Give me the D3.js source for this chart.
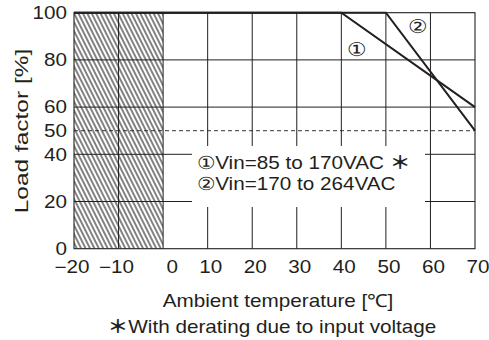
<!DOCTYPE html>
<html><head><meta charset="utf-8">
<script src="https://cdn.jsdelivr.net/npm/d3@7"></script>
<style>
html,body{margin:0;padding:0;background:#fff;}
svg{display:block;}
text{font-family:"Liberation Sans",Arial,sans-serif;fill:#231f20;}
tspan.ast{font-family:"Noto Sans CJK JP",sans-serif;font-weight:bold;}
</style></head>
<body>
<svg id="c" width="489" height="340"></svg>
<script>
// ---- data ----
const xTicks = [-20,-10,0,10,20,30,40,50,60,70];
const xTickLabels = ["\u221220","\u221210","0","10","20","30","40","50","60","70"];
const yTicks = [0,20,40,50,60,80,100];
const yTickLabels = ["0","20","40","50","60","80","100"];
const series1Temp = [-20,40,70];   // ① Vin=85 to 170VAC
const series1Load = [100,100,60];
const series2Temp = [-20,50,70];   // ② Vin=170 to 264VAC
const series2Load = [100,100,50];
const hatchRange = [-20,0];
const dashedLevel = 50;
const legendLines = ["\u2460Vin=85 to 170VAC ","\u2461Vin=170 to 264VAC"];
const legendMarks = ["\uFF0A",""];
const xTitle = "Ambient temperature [\u2103]";
const yTitle = "Load factor [%]";
const footMark = "\uFF0A";
const footnote = "With derating due to input voltage";

// ---- layout ----
const svg = d3.select("#c");
const L = 74, R = 475, T = 12.7, B = 248.7;
const x = d3.scaleLinear().domain([-20,70]).range([L,R]);
const y = d3.scaleLinear().domain([0,100]).range([B,T]);
const ink = "#231f20";
const SX = 1.15;

function txt(px, py, s, anchor, size, rot, sx){
  return svg.append("text")
    .attr("transform", `translate(${px},${py})` + (rot?` rotate(${rot})`:"") + ` scale(${sx||SX},1)`)
    .attr("text-anchor", anchor || "start")
    .style("font-size", (size||18) + "px")
    .text(s);
}

// hatch pattern
const defs = svg.append("defs");
const pat = defs.append("pattern").attr("id","hatch")
  .attr("patternUnits","userSpaceOnUse").attr("width",3.95).attr("height",10)
  .attr("patternTransform","rotate(-26.57)");
pat.append("line").attr("x1",1).attr("x2",1).attr("y1",-1).attr("y2",11)
  .attr("stroke","#111").attr("stroke-width",1.05);

svg.append("rect").attr("x",x(hatchRange[0])).attr("y",T)
  .attr("width",x(hatchRange[1])-x(hatchRange[0])).attr("height",B-T)
  .attr("fill","url(#hatch)");

// grid
const g = svg.append("g");
g.selectAll("line.v").data(xTicks.filter(d=>d>-20 && d<70)).join("line")
  .attr("x1",d=>x(d)).attr("x2",d=>x(d)).attr("y1",T).attr("y2",B)
  .attr("stroke",ink).attr("stroke-width",1);
g.selectAll("line.h").data([20,40,60,80]).join("line")
  .attr("x1",L).attr("x2",R).attr("y1",d=>y(d)).attr("y2",d=>y(d))
  .attr("stroke",ink).attr("stroke-width",1);
g.append("line").attr("x1",L).attr("x2",R).attr("y1",y(dashedLevel)).attr("y2",y(dashedLevel))
  .attr("stroke",ink).attr("stroke-width",0.9).attr("stroke-dasharray","4,3");

// frame
svg.append("rect").attr("x",L).attr("y",T).attr("width",R-L).attr("height",B-T)
  .attr("fill","none").attr("stroke",ink).attr("stroke-width",1.1);

// legend box (white)
svg.append("rect").attr("x",192).attr("y",146).attr("width",233).attr("height",61).attr("fill","#fff");

// series lines
const line = d3.line().x(d=>x(d[0])).y(d=>y(d[1]));
[[series1Temp,series1Load],[series2Temp,series2Load]].forEach(([t,l])=>{
  svg.append("path").datum(t.map((v,i)=>[v,l[i]])).attr("d",line)
    .attr("fill","none").attr("stroke",ink).attr("stroke-width",2).attr("stroke-linejoin","miter");
});

// tick labels
xTicks.forEach((v,i)=>{
  const dx = v===0 ? 9 : (v<0 ? -2 : 3);
  txt(x(v)+dx, 273, xTickLabels[i], "middle", 17.5, 0, 1.18);
});
yTicks.forEach((v,i)=>{
  txt(67, y(v)+6.2, yTickLabels[i], "end", 17.5, 0, 1.18);
});

// legend text
legendLines.forEach((s,i)=>{
  const t = txt(197, 169 + i*21, s, "start", 18);
  if (legendMarks[i]) t.append("tspan").attr("class","ast").text(legendMarks[i]);
});

// annotations
txt(x(43.5), y(84.6)+6.5, "\u2460", "middle", 19);
txt(x(57.2), y(94)+6.5, "\u2461", "middle", 19);

// titles
txt(278, 306.5, xTitle, "middle", 18);
const fn = txt(272, 333, "", "middle", 18);
fn.append("tspan").attr("class","ast").text(footMark);
fn.append("tspan").text(footnote);
txt(28, 131, yTitle, "middle", 18, -90, 1.36);
</script>
</body></html>
